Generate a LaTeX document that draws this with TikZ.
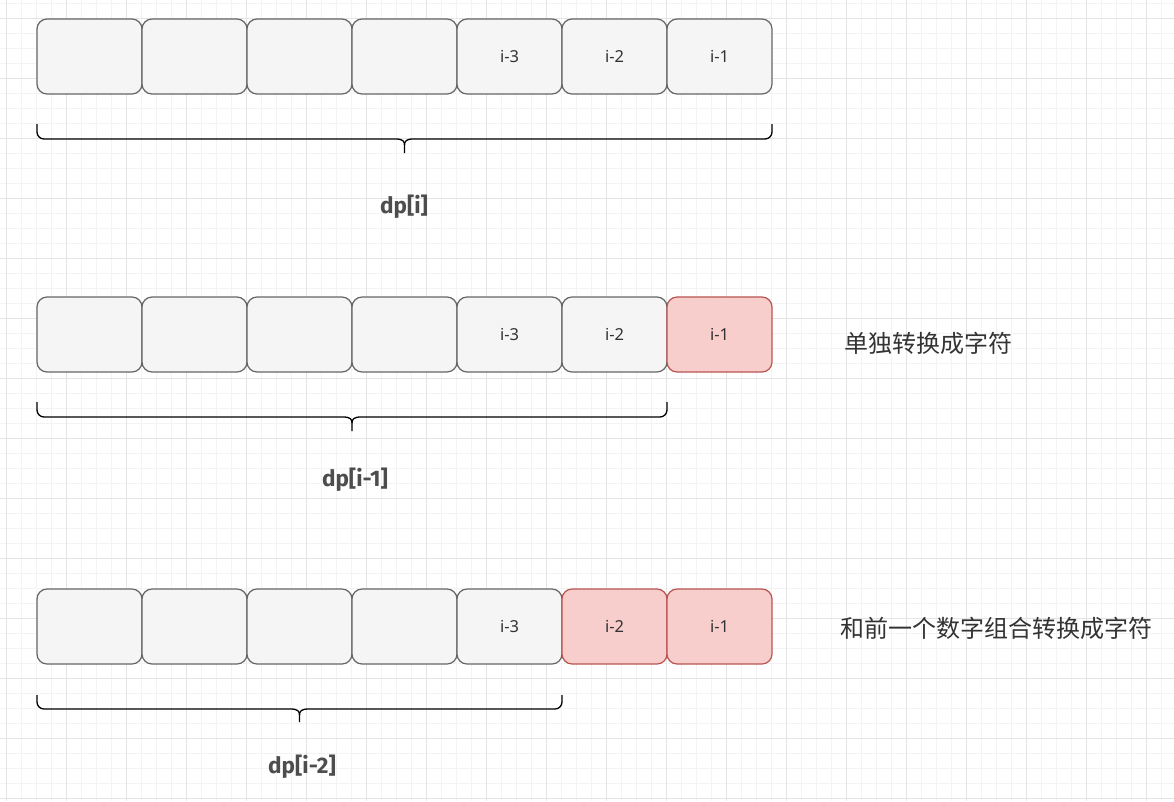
\documentclass[tikz,border=0pt]{standalone}
\usepackage{fontspec}
\setmainfont{Noto Sans}
\newfontfamily\cjk{Noto Sans CJK SC}
\newfontfamily\lab{Fira Sans}
\definecolor{gmin}{HTML}{F3F3F3}
\definecolor{gmaj}{HTML}{E4E4E4}
\definecolor{cfill}{HTML}{F5F5F5}
\definecolor{cline}{HTML}{666666}
\definecolor{rfill}{HTML}{F8CECC}
\definecolor{rline}{HTML}{B85450}
\definecolor{txt}{HTML}{333333}
\definecolor{labc}{HTML}{4D4D4D}
\tikzset{
  cell/.style={draw=cline, fill=cfill, line width=1.2pt, rounded corners=10pt,
    minimum width=105pt, minimum height=75pt, inner sep=0pt, outer sep=0pt,
    anchor=north west, font=\fontsize{16.5}{19}\selectfont, text=txt},
  redcell/.style={cell, draw=rline, fill=rfill},
  brace/.style={draw=black, line width=1.3pt},
  dplabel/.style={font=\lab\bfseries\fontsize{22.5}{26}\selectfont, text=labc},
  note/.style={font=\cjk\fontsize{24}{28}\selectfont, text=txt},
}
\begin{document}
\begin{tikzpicture}[x=1pt,y=-1pt]
\useasboundingbox (0,0) rectangle (1174,801);
\fill[white] (0,0) rectangle (1174,801);
% grid
\foreach \k in {0,...,78} {
  \draw[gmin, line width=0.8pt] (6.5+15*\k,0) -- (6.5+15*\k,801);
}
\foreach \k in {0,...,53} {
  \draw[gmin, line width=0.8pt] (0,3+15*\k) -- (1174,3+15*\k);
}
\foreach \k in {0,...,19} {
  \draw[gmaj, line width=1pt] (6.5+60*\k,0) -- (6.5+60*\k,801);
}
\foreach \k in {0,...,13} {
  \draw[gmaj, line width=1pt] (0,18+60*\k) -- (1174,18+60*\k);
}
% row 1
\node[cell] (a1) at (37,19) {};
\node[cell] (a2) at (142,19) {};
\node[cell] (a3) at (247,19) {};
\node[cell] (a4) at (352,19) {};
\node[cell] (a5) at (457,19) {i-3};
\node[cell] (a6) at (562,19) {i-2};
\node[cell] (a7) at (667,19) {i-1};
% row 2
\node[cell] (b1) at (37,297) {};
\node[cell] (b2) at (142,297) {};
\node[cell] (b3) at (247,297) {};
\node[cell] (b4) at (352,297) {};
\node[cell] (b5) at (457,297) {i-3};
\node[cell] (b6) at (562,297) {i-2};
\node[redcell] (b7) at (667,297) {i-1};
% row 3
\node[cell] (c1) at (37,589) {};
\node[cell] (c2) at (142,589) {};
\node[cell] (c3) at (247,589) {};
\node[cell] (c4) at (352,589) {};
\node[cell] (c5) at (457,589) {i-3};
\node[redcell] (c6) at (562,589) {i-2};
\node[redcell] (c7) at (667,589) {i-1};
% braces
\newcommand{\mybrace}[5]{% x1, x2, top, line, tip
  \pgfmathsetmacro{\mid}{(#1+#2)/2}
  \draw[brace] (#1,#3) -- (#1,#4-7) arc[start angle=180, end angle=90, radius=7]
    -- (\mid-9,#4) .. controls (\mid-2,#4) and (\mid,#4+2) .. (\mid,#4+6) -- (\mid,#5);
  \draw[brace] (#2,#3) -- (#2,#4-7) arc[start angle=0, end angle=90, radius=7]
    -- (\mid+9,#4) .. controls (\mid+2,#4) and (\mid,#4+2) .. (\mid,#4+6);
}
\mybrace{37}{772}{124}{139}{153}
\mybrace{37}{667}{402}{417}{431}
\mybrace{37}{562}{695}{709}{722}
% labels
\node[dplabel] (l1) at (404,207) {dp[i]};
\node[dplabel] (l2) at (355,480) {dp[i-1]};
\node[dplabel] (l3) at (302,767) {dp[i-2]};
\node[note] (n1) at (928,343) {单独转换成字符};
\node[note] (n2) at (996,628) {和前一个数字组合转换成字符};
\end{tikzpicture}
\end{document}
